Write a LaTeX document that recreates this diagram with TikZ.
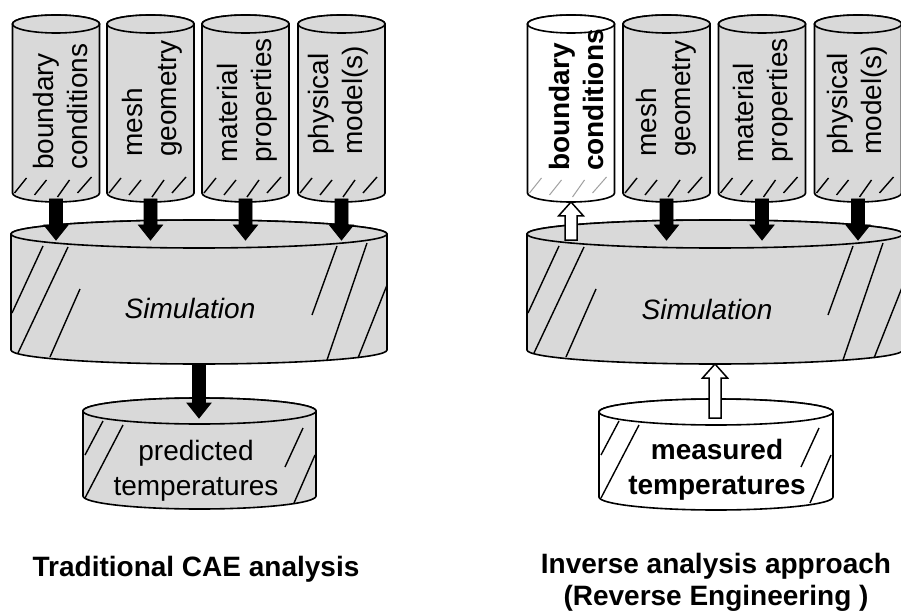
\documentclass[tikz,border=0pt]{standalone}
\usepackage{fontspec}
\setmainfont{Liberation Sans}
\usetikzlibrary{calc}
\tikzset{
  cylfill/.style={fill=gray!30, draw=black, line width=1.6pt},
  wcylfill/.style={fill=white, draw=black, line width=1.6pt},
  hatch/.style={draw=black, line width=1.4pt},
  whatch/.style={draw=gray!75, line width=1pt},
  cylbody/.style={inner sep=0pt, outer sep=0pt, draw=none},
  vlabel/.style={rotate=90, align=left, anchor=west, inner sep=0pt},
  txtlabel/.style={inner sep=0pt, align=center},
  blackarrow/.style={fill=black, draw=black, line width=0.8pt},
  whitearrow/.style={fill=white, draw=black, line width=1.5pt},
}
\newcommand\drawcyl[6]{% style, cx, ytop, ybot, rx, ry
  \path[#1] ({#2-#5},#3) -- ({#2-#5},#4) arc[start angle=180, end angle=0, x radius=#5, y radius=#6]
     -- ({#2+#5},#3) arc[start angle=0, end angle=-180, x radius=#5, y radius=#6] -- cycle;
  \path[#1] (#2,#3) ellipse[x radius=#5, y radius=#6];}
\newcommand\tophatch[2]{% style, left edge
  \draw[#1] ({#2+2},193) -- ({#2+14},178)
            ({#2+22},195) -- ({#2+34},180)
            ({#2+45},197) -- ({#2+57},180)
            ({#2+65},193) -- ({#2+79},177);}
\newcommand\simhatch[2]{% style, dx
  \draw[#1] ({12+#2},313) -- ({43+#2},246)
            ({18+#2},353) -- ({68+#2},247)
            ({50+#2},357) -- ({80+#2},289)
            ({312+#2},315) -- ({337+#2},246)
            ({327+#2},360) -- ({367+#2},243)
            ({358+#2},358) -- ({387+#2},285);}
\newcommand\bothatch[2]{% style, dx
  \draw[#1] ({85+#2},455) -- ({103+#2},421)
            ({85+#2},498) -- ({123+#2},425)
            ({285+#2},467) -- ({303+#2},428)
            ({294+#2},503) -- ({315+#2},455);}
\newcommand\arrdown[3]{%
  \path[#1] let \p1=(#2), \p2=(#3) in
    ({\x1-6.5pt},\y1) -- ({\x1-6.5pt},{\y2+15pt}) -- ({\x1-12pt},{\y2+15pt}) -- (\x1,\y2)
    -- ({\x1+12pt},{\y2+15pt}) -- ({\x1+6.5pt},{\y2+15pt}) -- ({\x1+6.5pt},\y1) -- cycle;}
\newcommand\arrup[3]{%
  \path[#1] let \p1=(#2), \p2=(#3) in
    ({\x2-6pt},\y1) -- ({\x2-6pt},{\y2-14pt}) -- ({\x2-12.5pt},{\y2-14pt}) -- (\x2,\y2)
    -- ({\x2+12.5pt},{\y2-14pt}) -- ({\x2+6pt},{\y2-14pt}) -- ({\x2+6pt},\y1) -- cycle;}
\begin{document}
\begin{tikzpicture}[x=1pt,y=-1pt, font=\fontsize{28}{34}\selectfont]
\useasboundingbox (0,0) rectangle (901,612);
\clip (0,0) rectangle (901,612);
\fill[white] (0,0) rectangle (901,612);

% ---------------- left diagram ----------------
\node[cylbody, minimum width=87pt, minimum height=169pt] (L1) at (56,108.5) {};
\node[cylbody, minimum width=87pt, minimum height=169pt] (L2) at (150.5,108.5) {};
\node[cylbody, minimum width=87pt, minimum height=169pt] (L3) at (245.5,108.5) {};
\node[cylbody, minimum width=87pt, minimum height=169pt] (L4) at (341.5,108.5) {};
\node[cylbody, minimum width=376pt, minimum height=116pt] (LS) at (199,292) {};
\node[cylbody, minimum width=233pt, minimum height=85pt] (LB) at (199.5,453.5) {};

\drawcyl{cylfill}{56}{24}{193}{43.5}{9}
\drawcyl{cylfill}{150.5}{24}{193}{43.5}{9}
\drawcyl{cylfill}{245.5}{24}{193}{43.5}{9}
\drawcyl{cylfill}{341.5}{24}{193}{43.5}{9}
\tophatch{hatch}{12.5}
\tophatch{hatch}{107}
\tophatch{hatch}{202}
\tophatch{hatch}{298}
\drawcyl{cylfill}{199}{234}{350}{188}{14}
\simhatch{hatch}{0}
\drawcyl{cylfill}{199.5}{411}{496}{116.5}{13}
\bothatch{hatch}{0}

\node[vlabel] (L1t) at (60,170) {boundary\\conditions};
\node[vlabel] (L2t) at (152,157) {mesh\\geometry};
\node[vlabel] (L3t) at (247.5,163) {material\\properties};
\node[vlabel] (L4t) at (338,155) {physical\\model(s)};
\node[txtlabel, anchor=base, font=\fontsize{28}{34}\selectfont\itshape] (LSt) at (190,318) {Simulation};
\node[txtlabel, anchor=north, font=\fontsize{28}{35}\selectfont] (LBt) at (196,440) {predicted\\temperatures};

\arrdown{blackarrow}{[yshift=-6pt]L1.south}{[yshift=-6pt]LS.north}
\arrdown{blackarrow}{[yshift=-6pt]L2.south}{[yshift=-6pt]LS.north}
\arrdown{blackarrow}{[yshift=-6pt]L3.south}{[yshift=-6pt]LS.north}
\arrdown{blackarrow}{[yshift=-6pt]L4.south}{[yshift=-6pt]LS.north}
\arrdown{blackarrow}{[yshift=-14pt]LS.south}{[yshift=-7pt]LB.north}

\node[txtlabel, anchor=base, font=\fontsize{28}{34}\selectfont\bfseries] (capL) at (196,576) {Traditional CAE analysis};

% ---------------- right diagram ----------------
\node[cylbody, minimum width=87pt, minimum height=169pt] (R1) at (571,108.5) {};
\node[cylbody, minimum width=87pt, minimum height=169pt] (R2) at (666.5,108.5) {};
\node[cylbody, minimum width=87pt, minimum height=169pt] (R3) at (762,108.5) {};
\node[cylbody, minimum width=87pt, minimum height=169pt] (R4) at (858,108.5) {};
\node[cylbody, minimum width=376pt, minimum height=116pt] (RS) at (715,292) {};
\node[cylbody, minimum width=234pt, minimum height=85pt] (RB) at (716,454.5) {};

\drawcyl{wcylfill}{571}{24}{193}{43.5}{9}
\drawcyl{cylfill}{666.5}{24}{193}{43.5}{9}
\drawcyl{cylfill}{762}{24}{193}{43.5}{9}
\drawcyl{cylfill}{858}{24}{193}{43.5}{9}
\tophatch{whatch}{527.5}
\tophatch{hatch}{623}
\tophatch{hatch}{718.5}
\tophatch{hatch}{814.5}
\drawcyl{cylfill}{715}{234}{350}{188}{14}
\simhatch{hatch}{516}
\drawcyl{wcylfill}{716}{412}{497}{117}{13}
\bothatch{hatch}{516}

\node[vlabel, font=\fontsize{28}{34}\selectfont\bfseries] (R1t) at (576,171) {boundary\\conditions};
\node[vlabel] (R2t) at (666,157) {mesh\\geometry};
\node[vlabel] (R3t) at (763,163) {material\\properties};
\node[vlabel] (R4t) at (857,155) {physical\\model(s)};
\node[txtlabel, anchor=base, font=\fontsize{28}{34}\selectfont\itshape] (RSt) at (707,319) {Simulation};
\node[txtlabel, anchor=north, font=\fontsize{28}{35}\selectfont\bfseries] (RBt) at (717,439) {measured\\temperatures};

\arrup{whitearrow}{[yshift=-6pt]RS.north}{[yshift=-9pt]R1.south}
\arrdown{blackarrow}{[yshift=-6pt]R2.south}{[yshift=-6pt]RS.north}
\arrdown{blackarrow}{[yshift=-6pt]R3.south}{[yshift=-6pt]RS.north}
\arrdown{blackarrow}{[yshift=-6pt]R4.south}{[yshift=-6pt]RS.north}
\arrup{whitearrow}{[yshift=-6pt]RB.north}{[yshift=-14pt]RS.south}

\node[txtlabel, anchor=north, font=\fontsize{28}{32}\selectfont\bfseries] (capR) at (716,553) {Inverse analysis approach\\(Reverse Engineering )};
\end{tikzpicture}
\end{document}
